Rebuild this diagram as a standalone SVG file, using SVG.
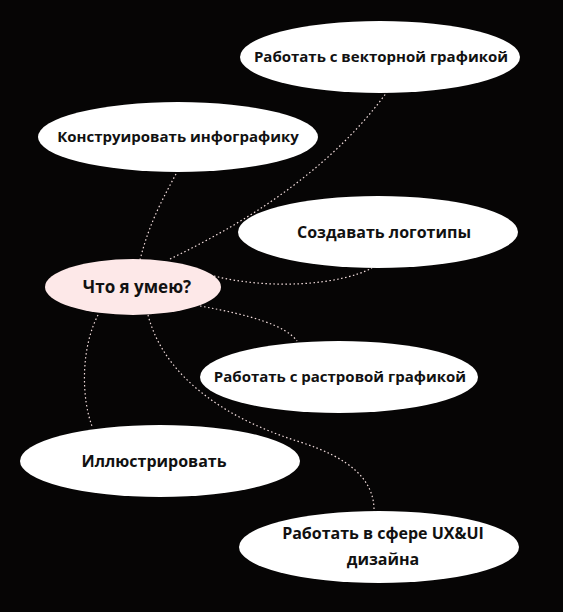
<svg xmlns="http://www.w3.org/2000/svg" width="563" height="612" viewBox="0 0 563 612">
<style>
.bg{fill:#060505}
.node{fill:#ffffff}
.center{fill:#fde8e8}
.t{font-family:"Open Sans","Noto Sans",sans-serif;font-weight:700;font-size:15px;fill:#111111;text-anchor:middle}
.l{font-size:16px}
.c{fill:none;stroke:#f3dede;stroke-width:1.2;stroke-dasharray:1.5 2.5}
</style>
<rect class="bg" x="0" y="0" width="563" height="612"/>
<g id="connectors">
<path class="c" d="M140,260 C150,220 165,195 177,172"/>
<path class="c" d="M170,259 C250,220 330,170 387,92"/>
<path class="c" d="M214,276 C270,290 340,285 372,268"/>
<path class="c" d="M200,306 C250,315 285,325 297,341"/>
<path class="c" d="M98,315 C80,350 82,400 92,426"/>
<path class="c" d="M148,315 C165,380 230,420 300,442 C350,458 375,480 374,512"/>
</g>
<g id="node-center">
<ellipse class="center" cx="133" cy="287" rx="88" ry="28"/>
<text class="t" x="137" y="293" style="font-size:17px">Что я умею?</text>
</g>
<g id="node-vector">
<ellipse class="node" cx="380" cy="57" rx="140" ry="36"/>
<text class="t" x="381" y="62">Работать с векторной графикой</text>
</g>
<g id="node-infographic">
<ellipse class="node" cx="178" cy="137" rx="140" ry="35"/>
<text class="t" x="178" y="142">Конструировать инфографику</text>
</g>
<g id="node-logos">
<ellipse class="node" cx="378" cy="232" rx="140" ry="36"/>
<text class="t l" x="384" y="238">Создавать логотипы</text>
</g>
<g id="node-raster">
<ellipse class="node" cx="339" cy="377" rx="139" ry="36"/>
<text class="t" x="340" y="382">Работать с растровой графикой</text>
</g>
<g id="node-illustrate">
<ellipse class="node" cx="160" cy="461" rx="140" ry="36"/>
<text class="t l" x="154" y="467">Иллюстрировать</text>
</g>
<g id="node-uxui">
<ellipse class="node" cx="379" cy="547" rx="140" ry="36"/>
<text class="t l" x="383" y="539">Работать в сфере UX&amp;UI</text>
<text class="t l" x="383" y="565">дизайна</text>
</g>
</svg>
